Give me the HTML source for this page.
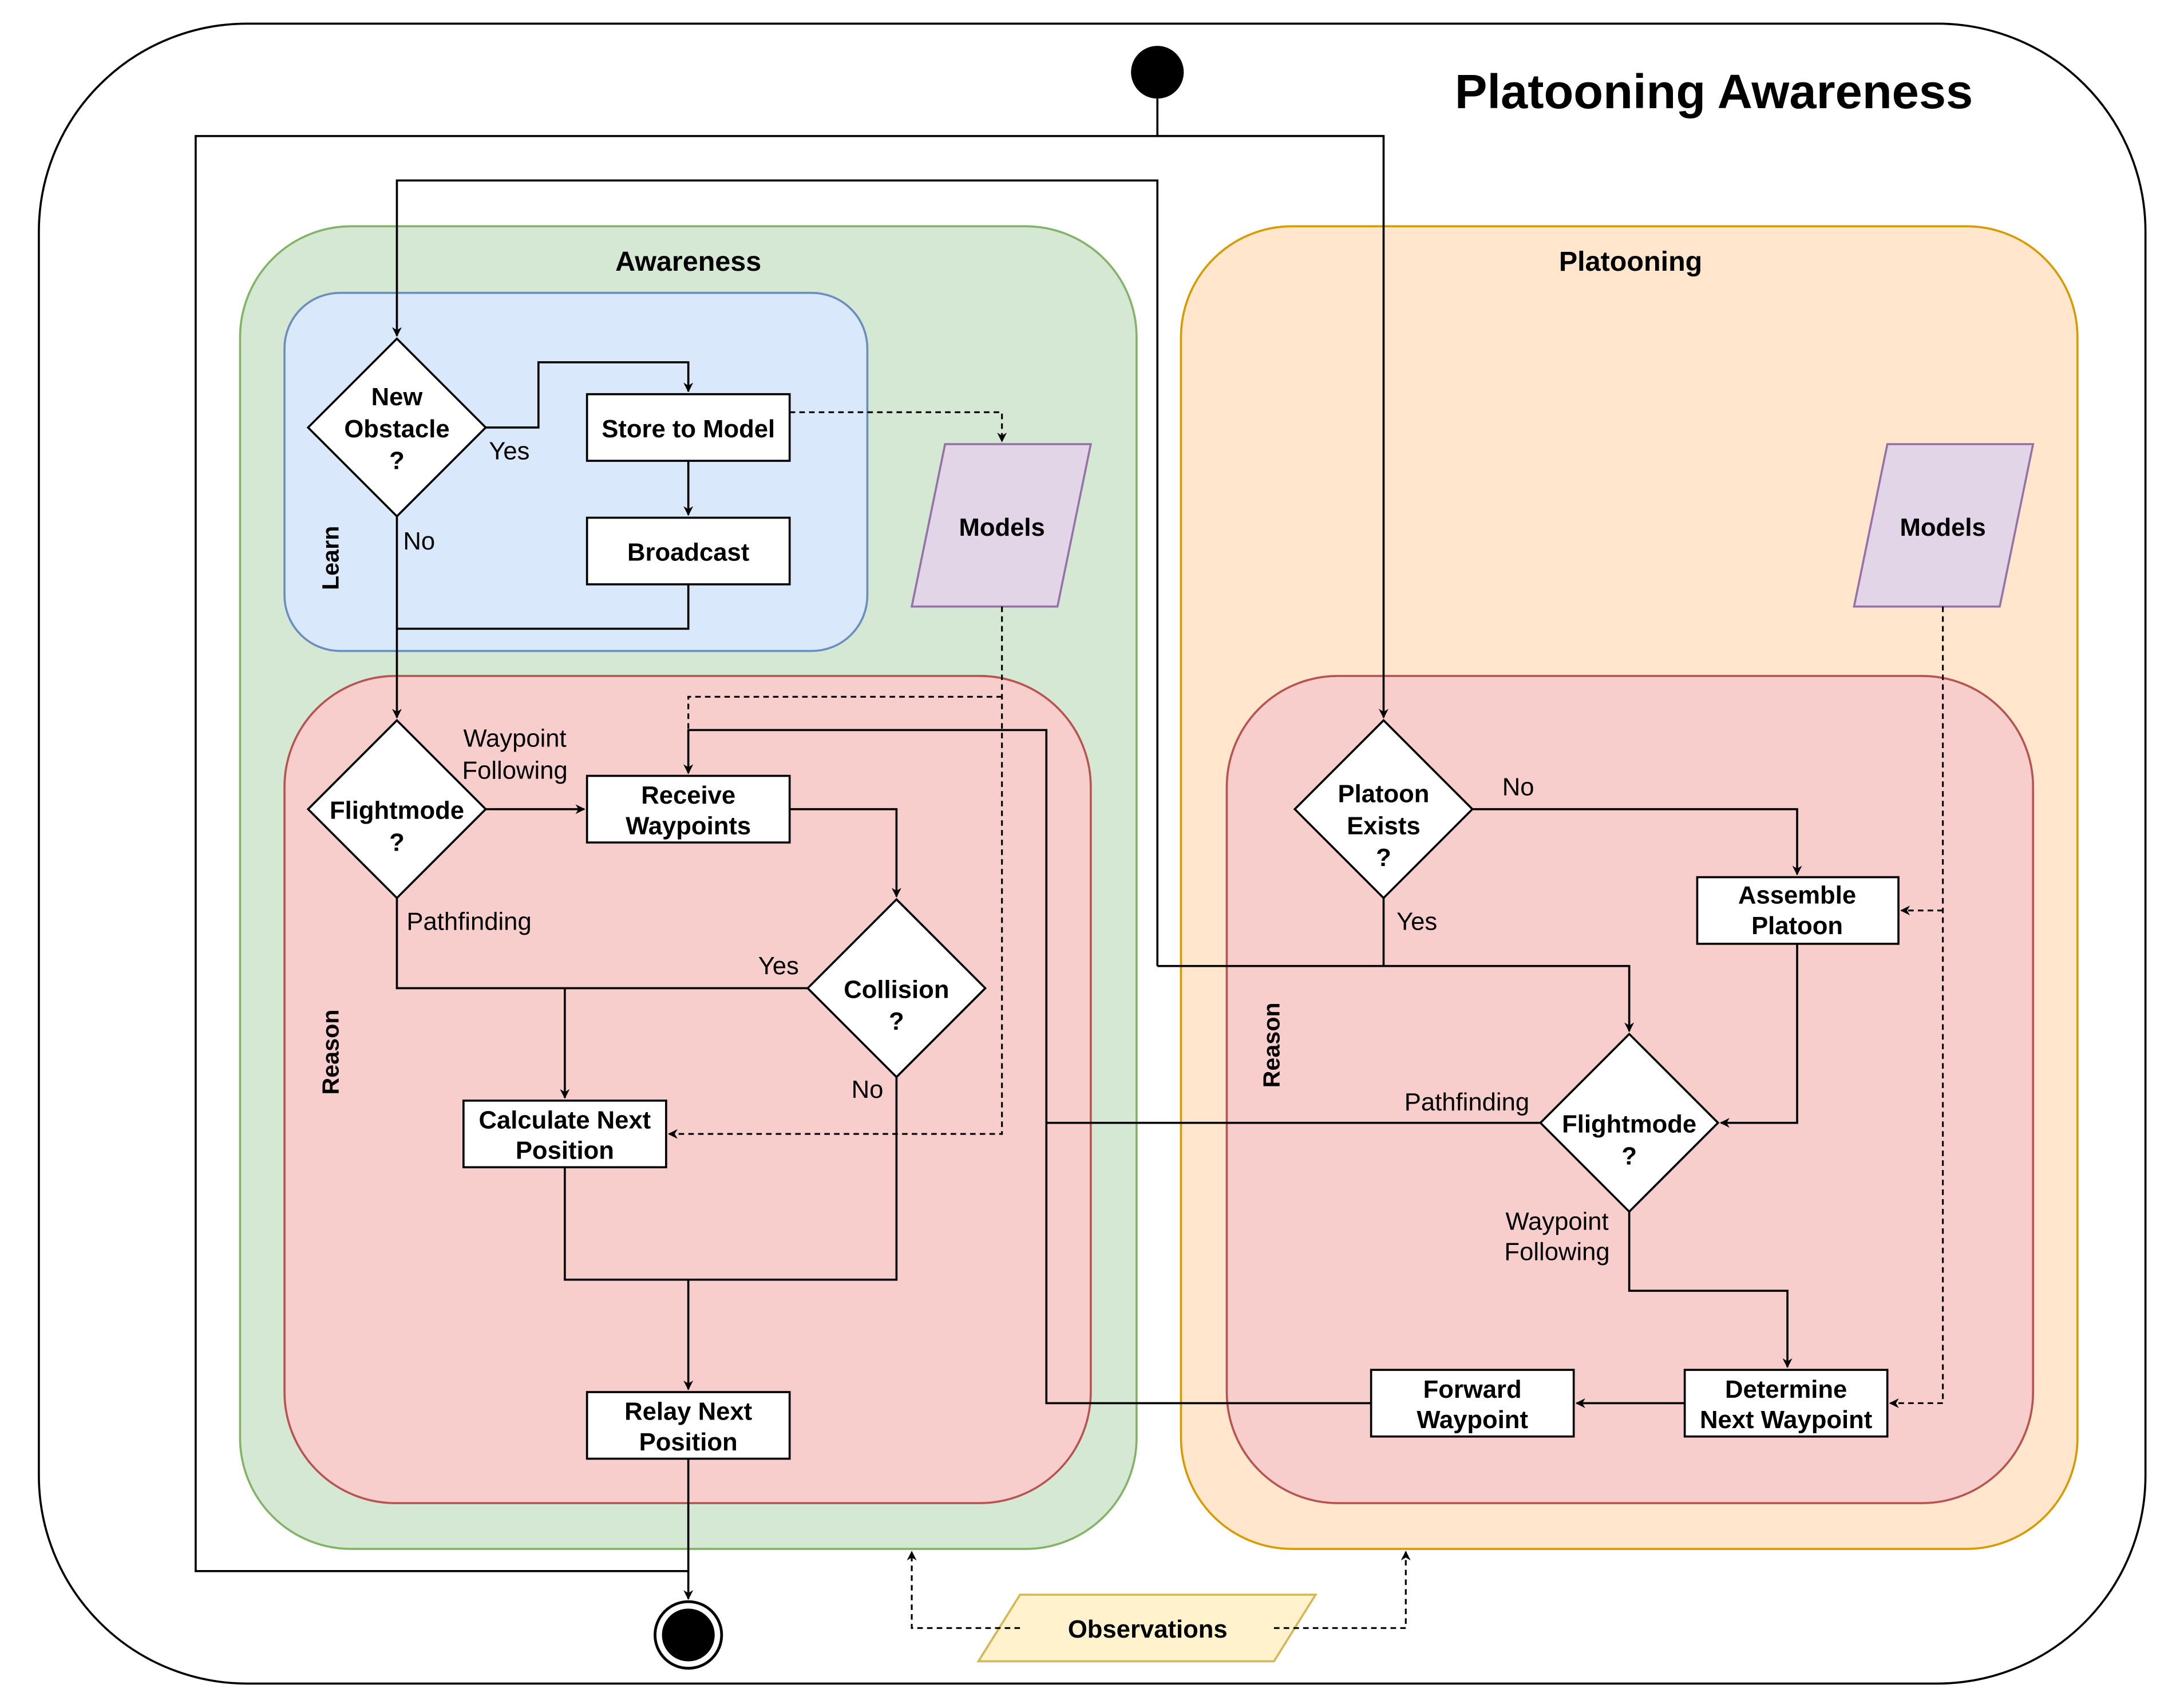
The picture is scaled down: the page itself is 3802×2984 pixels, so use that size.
<!DOCTYPE html>
<html><head><meta charset="utf-8"><style>html,body{margin:0;padding:0;background:#fff}svg{display:block}</style></head>
<body>
<svg width="3802" height="2984" viewBox="0 0 1568 1230.6" xmlns="http://www.w3.org/2000/svg" font-family="Liberation Sans, Arial, sans-serif">
<defs>
<marker id="a" viewBox="0 0 10 10" refX="9" refY="5" markerWidth="7" markerHeight="7" orient="auto" markerUnits="userSpaceOnUse"><path d="M0,0 L10,5 L0,10 L3,5 z" fill="#000"/></marker>
</defs>
<rect x="28" y="17" width="1518" height="1196" rx="150" fill="#fff" stroke="#000" stroke-width="1.5"/>
<text x="1235" y="78" font-size="35" font-weight="bold" text-anchor="middle">Platooning Awareness</text>
<rect x="173" y="163" width="646" height="953" rx="80" fill="#d5e8d4" stroke="#82b366" stroke-width="1.5"/>
<rect x="851" y="163" width="646" height="953" rx="80" fill="#ffe6cc" stroke="#d79b00" stroke-width="1.5"/>
<rect x="205" y="211" width="420" height="258" rx="40" fill="#dae8fc" stroke="#6c8ebf" stroke-width="1.5"/>
<rect x="205" y="487" width="581" height="596" rx="80" fill="#f8cecc" stroke="#b85450" stroke-width="1.5"/>
<rect x="884" y="487" width="581" height="596" rx="80" fill="#f8cecc" stroke="#b85450" stroke-width="1.5"/>
<g font-size="20" font-weight="bold" text-anchor="middle">
<text x="496" y="195">Awareness</text>
<text x="1175" y="195">Platooning</text>
</g>
<g font-size="17" font-weight="bold" text-anchor="middle">
<text transform="translate(244,402) rotate(-90)">Learn</text>
<text transform="translate(244,758) rotate(-90)">Reason</text>
<text transform="translate(922,753) rotate(-90)">Reason</text>
</g>
<polygon points="681,320 786,320 762,437 657,437" fill="#e1d5e7" stroke="#9673a6" stroke-width="1.5"/>
<polygon points="1360,320 1465,320 1441,437 1336,437" fill="#e1d5e7" stroke="#9673a6" stroke-width="1.5"/>
<polygon points="735,1149 948,1149 918,1197 705,1197" fill="#fff2cc" stroke="#d6b656" stroke-width="1.5"/>
<g fill="none" stroke="#000" stroke-width="1.5">
<line x1="834" y1="71" x2="834" y2="98"/>
<polyline points="997,98 141,98 141,1132 496,1132"/>
<polyline points="834,98 997,98 997,517" marker-end="url(#a)"/>
<polyline points="834,696 834,130 286,130 286,242" marker-end="url(#a)"/>
<line x1="997" y1="647" x2="997" y2="696"/>
<polyline points="834,696 1174,696 1174,743" marker-end="url(#a)"/>
<polyline points="350,308 388,308 388,261 496,261 496,282" marker-end="url(#a)"/>
<line x1="496" y1="332" x2="496" y2="371" marker-end="url(#a)"/>
<polyline points="496,421 496,453 286,453"/>
<line x1="286" y1="372" x2="286" y2="517" marker-end="url(#a)"/>
<line x1="350" y1="583" x2="421" y2="583" marker-end="url(#a)"/>
<polyline points="569,583 646,583 646,646" marker-end="url(#a)"/>
<polyline points="286,647 286,712 582,712"/>
<line x1="407" y1="712" x2="407" y2="791" marker-end="url(#a)"/>
<polyline points="646,776 646,922 407,922 407,841"/>
<line x1="496" y1="922" x2="496" y2="1001" marker-end="url(#a)"/>
<line x1="496" y1="1051" x2="496" y2="1152" marker-end="url(#a)"/>
<polyline points="988,1011 754,1011 754,526 496,526 496,557" marker-end="url(#a)"/>
<line x1="1110" y1="809" x2="754" y2="809"/>
<polyline points="1061,583 1295,583 1295,630" marker-end="url(#a)"/>
<polyline points="1295,680 1295,809 1240,809" marker-end="url(#a)"/>
<polyline points="1174,873 1174,930 1288,930 1288,985" marker-end="url(#a)"/>
<line x1="1214" y1="1011" x2="1136" y2="1011" marker-end="url(#a)"/>
</g>
<g fill="none" stroke="#000" stroke-width="1.3" stroke-dasharray="4,3">
<polyline points="569,297 722,297 722,318" marker-end="url(#a)"/>
<polyline points="722,437 722,817 482,817" marker-end="url(#a)"/>
<polyline points="722,502 496,502 496,557" marker-end="url(#a)"/>
<polyline points="1400,437 1400,1011 1362,1011" marker-end="url(#a)"/>
<polyline points="1400,656 1370,656" marker-end="url(#a)"/>
<polyline points="735,1173 657,1173 657,1118" marker-end="url(#a)"/>
<polyline points="918,1173 1013,1173 1013,1118" marker-end="url(#a)"/>
</g>
<g fill="#fff" stroke="#000" stroke-width="1.5">
<polygon points="286,244 350,308 286,372 222,308"/>
<polygon points="286,519 350,583 286,647 222,583"/>
<polygon points="646,648 710,712 646,776 582,712"/>
<polygon points="997,519 1061,583 997,647 933,583"/>
<polygon points="1174,745 1238,809 1174,873 1110,809"/>
<rect x="423" y="284" width="146" height="48"/>
<rect x="423" y="373" width="146" height="48"/>
<rect x="423" y="559" width="146" height="48"/>
<rect x="334" y="793" width="146" height="48"/>
<rect x="423" y="1003" width="146" height="48"/>
<rect x="1223" y="632" width="145" height="48"/>
<rect x="988" y="987" width="146" height="48"/>
<rect x="1214" y="987" width="146" height="48"/>
</g>
<circle cx="834" cy="52" r="19" fill="#000"/>
<circle cx="496" cy="1178" r="24" fill="#fff" stroke="#000" stroke-width="2"/>
<circle cx="496" cy="1178" r="19" fill="#000"/>
<g font-size="18" font-weight="bold" text-anchor="middle">
<text x="286" y="292">New</text><text x="286" y="315">Obstacle</text><text x="286" y="338">?</text>
<text x="286" y="590">Flightmode</text><text x="286" y="613">?</text>
<text x="646" y="719">Collision</text><text x="646" y="742">?</text>
<text x="997" y="578">Platoon</text><text x="997" y="601">Exists</text><text x="997" y="624">?</text>
<text x="1174" y="816">Flightmode</text><text x="1174" y="839">?</text>
<text x="496" y="315">Store to Model</text>
<text x="496" y="404">Broadcast</text>
<text x="496" y="579">Receive</text><text x="496" y="601">Waypoints</text>
<text x="407" y="813">Calculate Next</text><text x="407" y="835">Position</text>
<text x="496" y="1023">Relay Next</text><text x="496" y="1045">Position</text>
<text x="1295" y="651">Assemble</text><text x="1295" y="673">Platoon</text>
<text x="1061" y="1007">Forward</text><text x="1061" y="1029">Waypoint</text>
<text x="1287" y="1007">Determine</text><text x="1287" y="1029">Next Waypoint</text>
<text x="722" y="386">Models</text>
<text x="1400" y="386">Models</text>
<text x="827" y="1180">Observations</text>
</g>
<g font-size="18" text-anchor="middle">
<text x="367" y="331">Yes</text>
<text x="302" y="396">No</text>
<text x="371" y="538">Waypoint</text><text x="371" y="561">Following</text>
<text x="338" y="670">Pathfinding</text>
<text x="561" y="702">Yes</text>
<text x="625" y="791">No</text>
<text x="1094" y="573">No</text>
<text x="1021" y="670">Yes</text>
<text x="1057" y="800">Pathfinding</text>
<text x="1122" y="886">Waypoint</text><text x="1122" y="908">Following</text>
</g>
</svg>
</body></html>
